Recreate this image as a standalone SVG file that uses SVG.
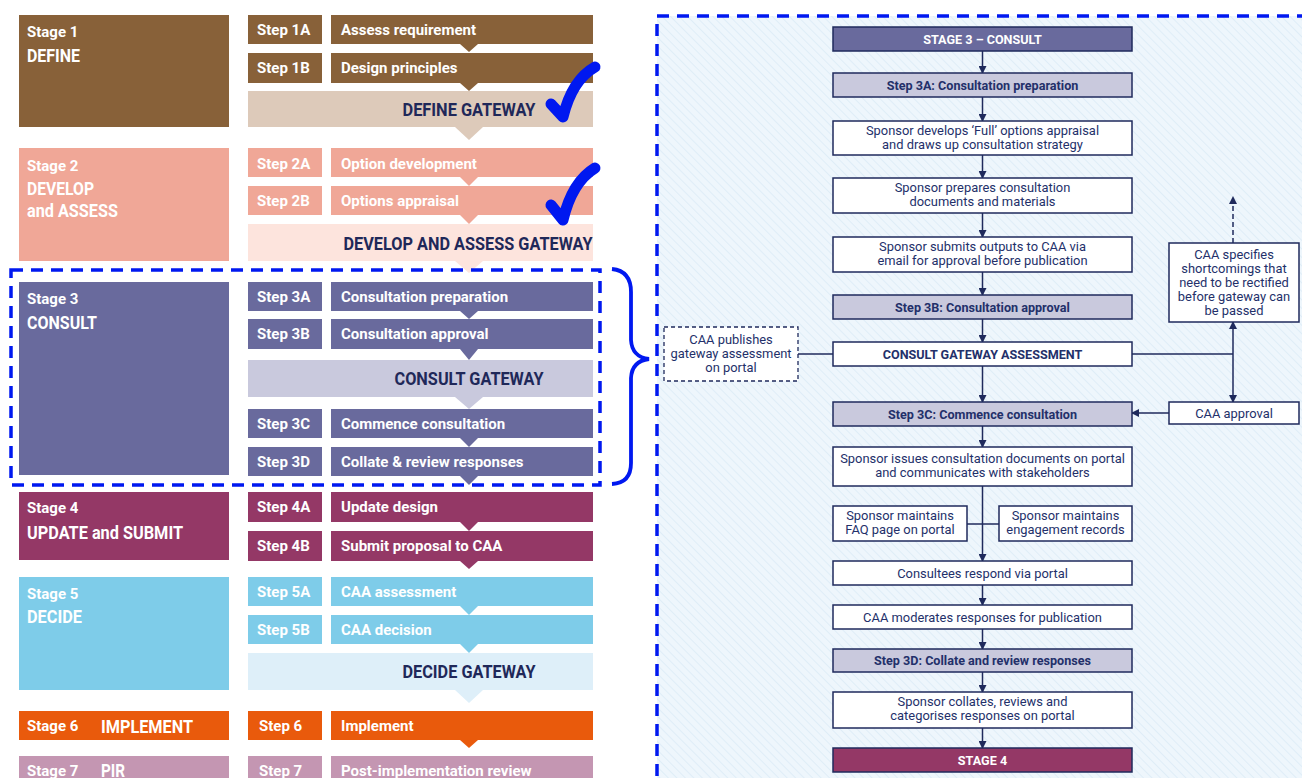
<svg xmlns="http://www.w3.org/2000/svg" width="1302" height="778" viewBox="0 0 1302 778">
<defs>
<style>
.lt{font-family:Roboto,"Liberation Sans",sans-serif;font-weight:bold;font-size:15px;fill:#fff}
.st{font-family:Roboto,"Liberation Sans",sans-serif;font-weight:bold;font-size:15px;fill:#fff}
.tt{font-family:Roboto,"Liberation Sans",sans-serif;font-weight:bold;font-size:19px;fill:#fff}
.gt{font-family:Roboto,"Liberation Sans",sans-serif;font-weight:bold;font-size:19px;fill:#1f2859}
.s1{fill:#886139}.g1{fill:#ddcaba}
.s2{fill:#f0a797}.g2{fill:#fde4dd}
.s3{fill:#696a9d}.g3{fill:#c9c9dd}
.s4{fill:#943866}
.s5{fill:#7ecce9}.g5{fill:#deeff9}
.s6{fill:#e95a0c}
.s7{fill:#c496b2}
.bx{fill:#fff;stroke:#1f2a5c;stroke-width:1.5}
.sb{fill:#c9c9dd;stroke:#1f2a5c;stroke-width:1.5}
.hd3{fill:#696a9d;stroke:#1f2a5c;stroke-width:1.5}
.hd4{fill:#943866;stroke:#1f2a5c;stroke-width:1.5}
.dbx{fill:#fff;stroke:#1f2a5c;stroke-width:1.3;stroke-dasharray:4,3}
.rt{font-family:Roboto,"Liberation Sans",sans-serif;font-size:12.9px;fill:#23306a;text-anchor:middle}
.rb{font-family:Roboto,"Liberation Sans",sans-serif;font-size:12.6px;font-weight:bold;fill:#23306a;text-anchor:middle}
.rw{font-family:Roboto,"Liberation Sans",sans-serif;font-size:12.6px;font-weight:bold;fill:#fff;text-anchor:middle}
.cn{stroke:#1f2a5c;stroke-width:1.5;fill:none}
.blue{stroke:#0018f0;stroke-width:3.5;fill:none;stroke-dasharray:12,8}
.chk{stroke:#0018f0;stroke-width:11;fill:none;stroke-linecap:round;stroke-linejoin:round}
</style>
<marker id="ah" markerWidth="8" markerHeight="8" refX="7" refY="4" orient="auto" markerUnits="userSpaceOnUse">
<path d="M0,0 L8,4 L0,8 z" fill="#1f2a5c"/>
</marker>
<marker id="ahs" markerWidth="8" markerHeight="8" refX="7" refY="4" orient="auto-start-reverse" markerUnits="userSpaceOnUse">
<path d="M0,0 L8,4 L0,8 z" fill="#1f2a5c"/>
</marker>
<pattern id="hatch" width="6" height="6" patternUnits="userSpaceOnUse" patternTransform="rotate(-45)">
<rect width="6" height="6" fill="#eef6fc"/>
<line x1="0" y1="0" x2="0" y2="6" stroke="#d6e7f4" stroke-width="1.2"/>
</pattern>
</defs>
<rect width="1302" height="778" fill="#fff"/>

<!-- LEFT PANEL -->
<g id="stage1">
<rect class="s1" x="19" y="15" width="210" height="112"/>
<text class="st" x="27" y="37">Stage 1</text>
<text class="tt" x="27" y="62" textLength="53" lengthAdjust="spacingAndGlyphs">DEFINE</text>
<rect class="g1" x="248" y="91" width="345" height="36"/>
<polygon class="g1" points="455,127 483,127 469,140"/>
<text class="gt" x="469" y="116" text-anchor="middle" textLength="133" lengthAdjust="spacingAndGlyphs">DEFINE GATEWAY</text>
<rect class="s1" x="248" y="15" width="74" height="29"/>
<rect class="s1" x="331" y="15" width="262" height="29"/>
<polygon class="s1" points="460,44 478,44 469,52"/>
<text class="lt" x="257" y="35">Step 1A</text>
<text class="lt" x="341" y="35">Assess requirement</text>
<rect class="s1" x="248" y="53" width="74" height="30"/>
<rect class="s1" x="331" y="53" width="262" height="30"/>
<polygon class="s1" points="460,83 478,83 469,91"/>
<text class="lt" x="257" y="73">Step 1B</text>
<text class="lt" x="341" y="73">Design principles</text>
</g>

<g id="stage2">
<rect class="s2" x="19" y="148" width="210" height="113"/>
<text class="st" x="27" y="171">Stage 2</text>
<text class="tt" x="27" y="195" textLength="67" lengthAdjust="spacingAndGlyphs">DEVELOP</text>
<text class="tt" x="27" y="217" textLength="91" lengthAdjust="spacingAndGlyphs">and ASSESS</text>
<rect class="g2" x="248" y="224" width="345" height="37"/>
<polygon class="g2" points="455,261 483,261 469,273"/>
<text class="gt" x="468" y="250" text-anchor="middle" textLength="249" lengthAdjust="spacingAndGlyphs">DEVELOP AND ASSESS GATEWAY</text>
<rect class="s2" x="248" y="148" width="74" height="29"/>
<rect class="s2" x="331" y="148" width="262" height="29"/>
<polygon class="s2" points="460,177 478,177 469,186"/>
<text class="lt" x="257" y="169">Step 2A</text>
<text class="lt" x="341" y="169">Option development</text>
<rect class="s2" x="248" y="186" width="74" height="29"/>
<rect class="s2" x="331" y="186" width="262" height="29"/>
<polygon class="s2" points="460,215 478,215 469,224"/>
<text class="lt" x="257" y="206">Step 2B</text>
<text class="lt" x="341" y="206">Options appraisal</text>
</g>

<g id="stage3">
<rect class="s3" x="19" y="282" width="210" height="193"/>
<text class="st" x="27" y="304">Stage 3</text>
<text class="tt" x="27" y="329" textLength="70" lengthAdjust="spacingAndGlyphs">CONSULT</text>
<rect class="g3" x="248" y="360" width="345" height="37"/>
<polygon class="g3" points="455,397 483,397 469,409"/>
<text class="gt" x="469" y="385" text-anchor="middle" textLength="149" lengthAdjust="spacingAndGlyphs">CONSULT GATEWAY</text>
<rect class="s3" x="248" y="282" width="74" height="29"/>
<rect class="s3" x="331" y="282" width="262" height="29"/>
<polygon class="s3" points="460,311 478,311 469,319"/>
<text class="lt" x="257" y="302">Step 3A</text>
<text class="lt" x="341" y="302">Consultation preparation</text>
<rect class="s3" x="248" y="319" width="74" height="30"/>
<rect class="s3" x="331" y="319" width="262" height="30"/>
<polygon class="s3" points="460,349 478,349 469,360"/>
<text class="lt" x="257" y="339">Step 3B</text>
<text class="lt" x="341" y="339">Consultation approval</text>
<rect class="s3" x="248" y="409" width="74" height="29"/>
<rect class="s3" x="331" y="409" width="262" height="29"/>
<polygon class="s3" points="460,438 478,438 469,447"/>
<text class="lt" x="257" y="429">Step 3C</text>
<text class="lt" x="341" y="429">Commence consultation</text>
<rect class="s3" x="248" y="447" width="74" height="29"/>
<rect class="s3" x="331" y="447" width="262" height="29"/>
<polygon class="s3" points="460,476 478,476 469,485"/>
<text class="lt" x="257" y="467">Step 3D</text>
<text class="lt" x="341" y="467">Collate &amp; review responses</text>
</g>

<g id="stage4">
<rect class="s4" x="19" y="492" width="210" height="68"/>
<text class="st" x="27" y="513">Stage 4</text>
<text class="tt" x="27" y="539" textLength="156" lengthAdjust="spacingAndGlyphs">UPDATE and SUBMIT</text>
<rect class="s4" x="248" y="492" width="74" height="30"/>
<rect class="s4" x="331" y="492" width="262" height="30"/>
<polygon class="s4" points="460,522 478,522 469,531"/>
<text class="lt" x="257" y="512">Step 4A</text>
<text class="lt" x="341" y="512">Update design</text>
<rect class="s4" x="248" y="531" width="74" height="30"/>
<rect class="s4" x="331" y="531" width="262" height="30"/>
<polygon class="s4" points="460,561 478,561 469,569"/>
<text class="lt" x="257" y="551">Step 4B</text>
<text class="lt" x="341" y="551">Submit proposal to CAA</text>
</g>

<g id="stage5">
<rect class="s5" x="19" y="577" width="210" height="113"/>
<text class="st" x="27" y="599">Stage 5</text>
<text class="tt" x="27" y="623" textLength="55" lengthAdjust="spacingAndGlyphs">DECIDE</text>
<rect class="g5" x="248" y="653" width="345" height="37"/>
<polygon class="g5" points="455,690 483,690 469,703"/>
<text class="gt" x="469" y="678" text-anchor="middle" textLength="133" lengthAdjust="spacingAndGlyphs">DECIDE GATEWAY</text>
<rect class="s5" x="248" y="577" width="74" height="29"/>
<rect class="s5" x="331" y="577" width="262" height="29"/>
<polygon class="s5" points="460,606 478,606 469,615"/>
<text class="lt" x="257" y="597">Step 5A</text>
<text class="lt" x="341" y="597">CAA assessment</text>
<rect class="s5" x="248" y="615" width="74" height="29"/>
<rect class="s5" x="331" y="615" width="262" height="29"/>
<polygon class="s5" points="460,644 478,644 469,653"/>
<text class="lt" x="257" y="635">Step 5B</text>
<text class="lt" x="341" y="635">CAA decision</text>
</g>

<g id="stage6">
<rect class="s6" x="19" y="711" width="210" height="29"/>
<text class="st" x="27" y="731">Stage 6</text>
<text class="tt" x="101" y="733" textLength="92" lengthAdjust="spacingAndGlyphs">IMPLEMENT</text>
<rect class="s6" x="248" y="711" width="74" height="29"/>
<rect class="s6" x="331" y="711" width="262" height="29"/>
<polygon class="s6" points="460,740 478,740 469,748"/>
<text class="lt" x="259" y="731">Step 6</text>
<text class="lt" x="341" y="731">Implement</text>
</g>

<g id="stage7">
<rect class="s7" x="19" y="756" width="210" height="30"/>
<text class="st" x="27" y="776">Stage 7</text>
<text class="tt" x="101" y="777" textLength="24" lengthAdjust="spacingAndGlyphs">PIR</text>
<rect class="s7" x="248" y="756" width="74" height="30"/>
<rect class="s7" x="331" y="756" width="262" height="30"/>
<text class="lt" x="259" y="776">Step 7</text>
<text class="lt" x="341" y="776">Post-implementation review</text>
</g>

<g id="annotations">
<path class="chk" d="M551,104 L563,117 Q572,80 595,67"/>
<path class="chk" d="M551,205 L563,220 Q572,182 595,168"/>
<rect class="blue" x="11" y="270" width="589" height="215"/>
<path d="M612,269 Q631,271 631,292 L631,340 Q632,357 649,359 Q632,361 631,378 L631,463 Q631,483 612,484" stroke="#0018f0" stroke-width="3.8" fill="none"/>
</g>

<!-- RIGHT PANEL -->
<g id="panel">
<rect x="657" y="16" width="660" height="780" fill="url(#hatch)"/>
<rect class="blue" x="657" y="16" width="660" height="780"/>
</g>

<g id="connectors">
<line class="cn" x1="982.5" y1="51" x2="982.5" y2="73" marker-end="url(#ah)"/>
<line class="cn" x1="982.5" y1="97" x2="982.5" y2="121" marker-end="url(#ah)"/>
<line class="cn" x1="982.5" y1="155" x2="982.5" y2="178" marker-end="url(#ah)"/>
<line class="cn" x1="982.5" y1="213" x2="982.5" y2="237" marker-end="url(#ah)"/>
<line class="cn" x1="982.5" y1="272" x2="982.5" y2="295" marker-end="url(#ah)"/>
<line class="cn" x1="982.5" y1="319" x2="982.5" y2="342" marker-end="url(#ah)"/>
<line class="cn" x1="982.5" y1="366" x2="982.5" y2="402" marker-end="url(#ah)"/>
<line class="cn" x1="982.5" y1="426" x2="982.5" y2="447" marker-end="url(#ah)"/>
<line class="cn" x1="982.5" y1="486" x2="982.5" y2="561" marker-end="url(#ah)"/>
<line class="cn" x1="967" y1="524" x2="999" y2="524"/>
<line class="cn" x1="982.5" y1="585" x2="982.5" y2="605" marker-end="url(#ah)"/>
<line class="cn" x1="982.5" y1="629" x2="982.5" y2="649" marker-end="url(#ah)"/>
<line class="cn" x1="982.5" y1="672" x2="982.5" y2="692" marker-end="url(#ah)"/>
<line class="cn" x1="982.5" y1="728" x2="982.5" y2="748" marker-end="url(#ah)"/>
<line class="cn" x1="798" y1="354" x2="833" y2="354"/>
<polyline class="cn" points="1132,354 1233,354"/>
<line class="cn" x1="1233" y1="322" x2="1233" y2="402" marker-start="url(#ahs)" marker-end="url(#ah)"/>
<line class="cn" x1="1169" y1="413" x2="1132" y2="413" marker-end="url(#ah)"/>
<line class="cn" x1="1233" y1="243" x2="1233" y2="197" stroke-dasharray="5,3" marker-end="url(#ah)"/>
</g>

<g id="n-stage3"><rect class="hd3" x="833" y="27" width="299" height="24"/><text class="rw" x="982.5" y="43.5">STAGE 3 – CONSULT</text></g>
<g id="n-step3a"><rect class="sb" x="833" y="73" width="299" height="24"/><text class="rb" x="982.5" y="89.5">Step 3A: Consultation preparation</text></g>
<g id="n-develops"><rect class="bx" x="833" y="121" width="299" height="34"/><text class="rt" x="982.5" y="135">Sponsor develops ‘Full’ options appraisal</text><text class="rt" x="982.5" y="149">and draws up consultation strategy</text></g>
<g id="n-prepares"><rect class="bx" x="833" y="178" width="299" height="35"/><text class="rt" x="982.5" y="192">Sponsor prepares consultation</text><text class="rt" x="982.5" y="206">documents and materials</text></g>
<g id="n-submits"><rect class="bx" x="833" y="237" width="299" height="35"/><text class="rt" x="982.5" y="251">Sponsor submits outputs to CAA via</text><text class="rt" x="982.5" y="265">email for approval before publication</text></g>
<g id="n-step3b"><rect class="sb" x="833" y="295" width="299" height="24"/><text class="rb" x="982.5" y="311.5">Step 3B: Consultation approval</text></g>
<g id="n-gateway"><rect class="bx" x="833" y="342" width="299" height="24"/><text class="rb" x="982.5" y="358.5">CONSULT GATEWAY ASSESSMENT</text></g>
<g id="n-publishes"><rect class="dbx" x="664" y="327" width="134" height="54"/><text class="rt" x="731" y="344">CAA publishes</text><text class="rt" x="731" y="358">gateway assessment</text><text class="rt" x="731" y="372">on portal</text></g>
<g id="n-specifies"><rect class="bx" x="1169" y="243" width="130" height="79"/><text class="rt" x="1234" y="259">CAA specifies</text><text class="rt" x="1234" y="273">shortcomings that</text><text class="rt" x="1234" y="287">need to be rectified</text><text class="rt" x="1234" y="301">before gateway can</text><text class="rt" x="1234" y="315">be passed</text></g>
<g id="n-approval"><rect class="bx" x="1169" y="402" width="130" height="22"/><text class="rt" x="1234" y="417.5">CAA approval</text></g>
<g id="n-step3c"><rect class="sb" x="833" y="402" width="299" height="24"/><text class="rb" x="982.5" y="418.5">Step 3C: Commence consultation</text></g>
<g id="n-issues"><rect class="bx" x="833" y="447" width="299" height="39"/><text class="rt" x="982.5" y="463">Sponsor issues consultation documents on portal</text><text class="rt" x="982.5" y="477">and communicates with stakeholders</text></g>
<g id="n-faq"><rect class="bx" x="833" y="506" width="134" height="35"/><text class="rt" x="900" y="520">Sponsor maintains</text><text class="rt" x="900" y="534">FAQ page on portal</text></g>
<g id="n-records"><rect class="bx" x="999" y="506" width="133" height="35"/><text class="rt" x="1065.5" y="520">Sponsor maintains</text><text class="rt" x="1065.5" y="534">engagement records</text></g>
<g id="n-respond"><rect class="bx" x="833" y="561" width="299" height="24"/><text class="rt" x="982.5" y="577.5">Consultees respond via portal</text></g>
<g id="n-moderates"><rect class="bx" x="833" y="605" width="299" height="24"/><text class="rt" x="982.5" y="621.5">CAA moderates responses for publication</text></g>
<g id="n-step3d"><rect class="sb" x="833" y="649" width="299" height="23"/><text class="rb" x="982.5" y="665">Step 3D: Collate and review responses</text></g>
<g id="n-collates"><rect class="bx" x="833" y="692" width="299" height="36"/><text class="rt" x="982.5" y="706">Sponsor collates, reviews and</text><text class="rt" x="982.5" y="720">categorises responses on portal</text></g>
<g id="n-stage4"><rect class="hd4" x="833" y="748" width="299" height="24"/><text class="rw" x="982.5" y="764.5">STAGE 4</text></g>
</svg>
